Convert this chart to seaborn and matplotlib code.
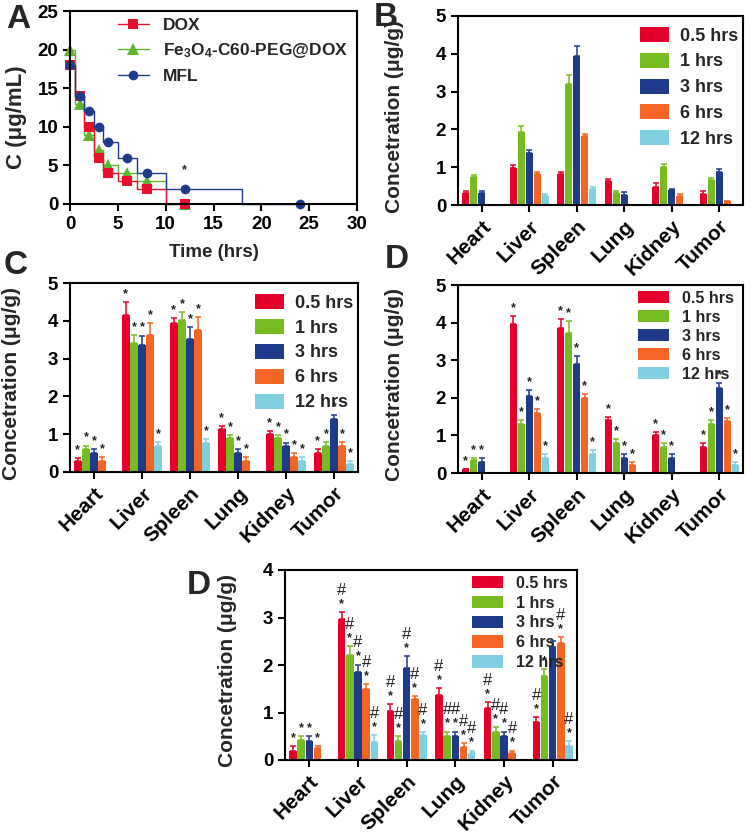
import numpy as np
import pandas as pd
import matplotlib
matplotlib.use('Agg')
import matplotlib.pyplot as plt
from matplotlib.lines import Line2D
import seaborn as sns

sns.set_theme(style='ticks')
plt.rcParams['font.family'] = ['Liberation Sans', 'DejaVu Sans']
plt.rcParams['font.weight'] = 'bold'
plt.rcParams['axes.labelweight'] = 'bold'
plt.rcParams['mathtext.fontset'] = 'custom'
plt.rcParams['mathtext.bf'] = 'Liberation Sans:bold'
plt.rcParams['mathtext.rm'] = 'Liberation Sans:bold'
plt.rcParams['mathtext.default'] = 'bf'

# ---------------- data ----------------
organs = ['Heart', 'Liver', 'Spleen', 'Lung', 'Kidney', 'Tumor']
times = ['0.5 hrs', '1 hrs', '3 hrs', '6 hrs', '12 hrs']
bar_colors = ['#E4002B', '#76BC21', '#1E3A8A', '#F26522', '#80D0E2']

# Panel A (plasma concentration)
t_dox = [0, 1, 2, 3, 4, 6, 8, 12]
c_dox = [18, 14, 10, 6, 4, 3, 2, 0]
t_fe = [0, 1, 2, 3, 4, 6, 8, 12]
c_fe = [20, 13, 9, 7, 5, 4, 3, 0]
t_mfl = [0, 1, 2, 3, 4, 6, 8, 12, 24]
c_mfl = [18, 14, 12, 10, 8, 6, 4, 2, 0]

# Panel B
B_mean = [[0.33, 0.75, 0.33, 0, 0],
          [0.97, 1.93, 1.38, 0.83, 0.23],
          [0.82, 3.20, 3.95, 1.83, 0.43],
          [0.63, 0.32, 0.27, 0, 0],
          [0.48, 1.00, 0.40, 0.23, 0],
          [0.28, 0.65, 0.87, 0.10, 0]]
B_err = [[0.05, 0.04, 0.05, 0, 0],
         [0.08, 0.15, 0.07, 0.05, 0.05],
         [0.05, 0.25, 0.25, 0.05, 0.05],
         [0.05, 0.05, 0.07, 0, 0],
         [0.10, 0.08, 0.03, 0.05, 0],
         [0.08, 0.06, 0.07, 0.01, 0]]

# Panel C
C_mean = [[0.28, 0.60, 0.50, 0.30, 0],
          [4.15, 3.42, 3.36, 3.63, 0.70],
          [3.93, 4.02, 3.53, 3.76, 0.78],
          [1.15, 0.90, 0.50, 0.30, 0],
          [1.00, 0.90, 0.70, 0.40, 0.30],
          [0.50, 0.70, 1.40, 0.70, 0.20]]
C_err = [[0.08, 0.10, 0.10, 0.10, 0],
         [0.35, 0.20, 0.25, 0.30, 0.10],
         [0.15, 0.20, 0.30, 0.35, 0.10],
         [0.07, 0.08, 0.10, 0.10, 0],
         [0.08, 0.08, 0.08, 0.10, 0.10],
         [0.10, 0.10, 0.10, 0.10, 0.10]]

# Panel D (upper)
D1_mean = [[0.10, 0.35, 0.30, 0, 0],
           [3.97, 1.30, 2.06, 1.60, 0.40],
           [3.85, 3.73, 2.90, 2.00, 0.50],
           [1.40, 0.80, 0.40, 0.20, 0],
           [1.00, 0.70, 0.40, 0, 0],
           [0.70, 1.30, 2.25, 1.38, 0.20]]
D1_err = [[0.01, 0.05, 0.10, 0, 0],
          [0.20, 0.10, 0.15, 0.10, 0.10],
          [0.25, 0.30, 0.20, 0.10, 0.10],
          [0.10, 0.10, 0.10, 0.10, 0],
          [0.10, 0.10, 0.10, 0, 0],
          [0.10, 0.10, 0.15, 0.08, 0.10]]

# Panel D (lower)
D2_mean = [[0.20, 0.42, 0.40, 0.25, 0],
           [2.97, 2.22, 1.86, 1.50, 0.37],
           [1.03, 0.40, 1.93, 1.28, 0.52],
           [1.36, 0.50, 0.50, 0.28, 0.15],
           [1.10, 0.60, 0.50, 0.15, 0],
           [0.80, 1.77, 2.38, 2.46, 0.30]]
D2_err = [[0.10, 0.08, 0.10, 0.05, 0],
          [0.15, 0.17, 0.15, 0.10, 0.15],
          [0.15, 0.10, 0.25, 0.07, 0.07],
          [0.15, 0.10, 0.10, 0.07, 0.05],
          [0.12, 0.10, 0.10, 0.05, 0],
          [0.10, 0.15, 0.12, 0.12, 0.10]]
D2_marks = [['*', '*', '*', '*', ''],
            ['#*', '#*', '#*', '#*', '#*'],
            ['#*', '#*', '#*', '#*', '#*'],
            ['#*', '#*', '#*', '#*', '#*'],
            ['#*', '#*', '#*', '#*', ''],
            ['#*', '*', '', '#*', '#*']]

W, H = 751, 839
GROUP_W = 0.84
fig = plt.figure(figsize=(W / 100, H / 100), dpi=100)


def box(l, t, r, b):
    return [l / W, (H - b) / H, (r - l) / W, (b - t) / H]


def style_axes(ax):
    for s in ax.spines.values():
        s.set_linewidth(1.5)
        s.set_color('black')
    ax.tick_params(direction='out', length=5, width=1.5, colors='black',
                   labelsize=13.5)
    for lab in ax.get_xticklabels() + ax.get_yticklabels():
        lab.set_fontweight('bold')


def bar_panel(ax, mean, err, ymax, legend_kw, marks=None, stars=True):
    rows = []
    for i, o in enumerate(organs):
        for j, t in enumerate(times):
            rows.append({'organ': o, 'time': t, 'value': mean[i][j]})
    df = pd.DataFrame(rows)
    sns.barplot(data=df, x='organ', y='value', hue='time', order=organs,
                hue_order=times, palette=bar_colors, saturation=1,
                width=GROUP_W, gap=0.08, linewidth=0, errorbar=None, ax=ax,
                legend=True)
    step = GROUP_W / len(times)
    for i in range(len(organs)):
        for j in range(len(times)):
            m = mean[i][j]
            e = err[i][j]
            if m <= 0:
                continue
            x = i + (j - 2) * step
            ax.errorbar([x], [m], yerr=[[0], [e]], fmt='none',
                        ecolor=bar_colors[j], elinewidth=1.1, capsize=2.5,
                        capthick=1.1)
            top = m + e
            if marks is not None:
                mk = marks[i][j]
                if '*' in mk:
                    ax.text(x, top + 0.01 * ymax, '*', ha='center',
                            va='bottom', fontsize=9, color='#222222')
                if '#' in mk:
                    ax.text(x, top + 0.075 * ymax, '#', ha='center',
                            va='bottom', fontsize=12, fontweight='normal',
                            color='#222222')
            elif stars:
                ax.text(x, top + 0.01 * ymax, '*', ha='center', va='bottom',
                        fontsize=9, color='#222222')
    ax.set_xlim(-0.5, 5.5)
    ax.set_ylim(0, ymax)
    ax.set_yticks(range(0, ymax + 1))
    ax.set_xlabel('')
    ax.set_ylabel('Concetration (μg/g)', fontsize=15, fontweight='bold')
    sns.despine(ax=ax, top=False, right=False)
    style_axes(ax)
    ax.set_xticks(range(len(organs)))
    ax.set_xticklabels(organs, rotation=45, ha='right',
                       rotation_mode='anchor', fontsize=15,
                       fontweight='bold')
    h, l = ax.get_legend_handles_labels()
    ax.legend(h, l, frameon=False, **legend_kw)


# ---------------- Panel A ----------------
axA = fig.add_axes(box(70, 11, 357, 204))
sns.lineplot(x=t_fe, y=c_fe, ax=axA, color='#5DB530', marker='^',
             markersize=8, markeredgewidth=0, lw=1, drawstyle='steps-mid',
             clip_on=False, sort=False)
sns.lineplot(x=t_dox, y=c_dox, ax=axA, color='#E8112D', marker='s',
             markersize=7, markeredgewidth=0, lw=1, drawstyle='steps-mid',
             clip_on=False, sort=False)
sns.lineplot(x=t_mfl, y=c_mfl, ax=axA, color='#1E3A8A', marker='o',
             markersize=7, markeredgewidth=0, lw=1, drawstyle='steps-mid',
             clip_on=False, sort=False)
axA.text(12, 3.6, '*', ha='center', va='bottom', fontsize=9,
         color='#222222')
axA.set_xlim(0, 30)
axA.set_ylim(0, 25)
axA.set_xticks(range(0, 31, 5))
axA.set_yticks(range(0, 26, 5))
axA.set_xlabel('Time (hrs)', fontsize=13.5, fontweight='bold', labelpad=8)
axA.set_ylabel('C (μg/mL)', fontsize=16, fontweight='bold')
sns.despine(ax=axA, top=False, right=False)
style_axes(axA)
legA = [Line2D([0], [0], color='#E8112D', marker='s', ms=7, mew=0, lw=1),
        Line2D([0], [0], color='#5DB530', marker='^', ms=8, mew=0, lw=1),
        Line2D([0], [0], color='#1E3A8A', marker='o', ms=7, mew=0, lw=1)]
axA.legend(legA, ['DOX', r'Fe$_3$O$_4$-C60-PEG@DOX', 'MFL'], frameon=False,
           loc='upper left', bbox_to_anchor=(0.13, 1.02), fontsize=12.5,
           handlelength=1.8, labelspacing=0.5, borderaxespad=0.2)

# ---------------- Panel B ----------------
axB = fig.add_axes(box(458, 16, 743, 205))
bar_panel(axB, B_mean, B_err, 5,
          dict(loc='upper right', bbox_to_anchor=(1.02, 1.0), fontsize=13,
               handlelength=1.6, handleheight=0.9, labelspacing=0.45,
               handletextpad=0.6, borderaxespad=0.2), stars=False)

# ---------------- Panel C ----------------
axC = fig.add_axes(box(70, 283, 358, 472))
bar_panel(axC, C_mean, C_err, 5,
          dict(loc='upper right', bbox_to_anchor=(1.02, 1.0), fontsize=13,
               handlelength=1.6, handleheight=0.9, labelspacing=0.4,
               handletextpad=0.6, borderaxespad=0.2))

# ---------------- Panel D upper ----------------
axD1 = fig.add_axes(box(458, 285, 743, 473))
bar_panel(axD1, D1_mean, D1_err, 5,
          dict(loc='upper right', bbox_to_anchor=(1.0, 1.02), fontsize=11.5,
               handlelength=1.9, handleheight=0.8, labelspacing=0.25,
               handletextpad=0.8, borderaxespad=0.2))

# ---------------- Panel D lower ----------------
axD2 = fig.add_axes(box(285, 570, 577, 760))
bar_panel(axD2, D2_mean, D2_err, 4,
          dict(loc='upper right', bbox_to_anchor=(1.0, 1.02), fontsize=11.5,
               handlelength=1.9, handleheight=0.8, labelspacing=0.3,
               handletextpad=0.8, borderaxespad=0.2), marks=D2_marks)

axA.yaxis.set_label_coords(-0.15, 0.45)
axB.yaxis.set_label_coords(-0.19, 0.47)
axC.yaxis.set_label_coords(-0.17, 0.47)
axD1.yaxis.set_label_coords(-0.19, 0.47)
axD2.yaxis.set_label_coords(-0.165, 0.47)

# panel letters
for s, x, y in [('A', 18, 20), ('B', 386, 17), ('C', 16, 266),
                ('D', 397, 260), ('D', 199, 585)]:
    fig.text(x / W, 1 - y / H, s, fontsize=24, fontweight='bold',
             ha='center', va='center')

fig.savefig('out.png', dpi=100)
